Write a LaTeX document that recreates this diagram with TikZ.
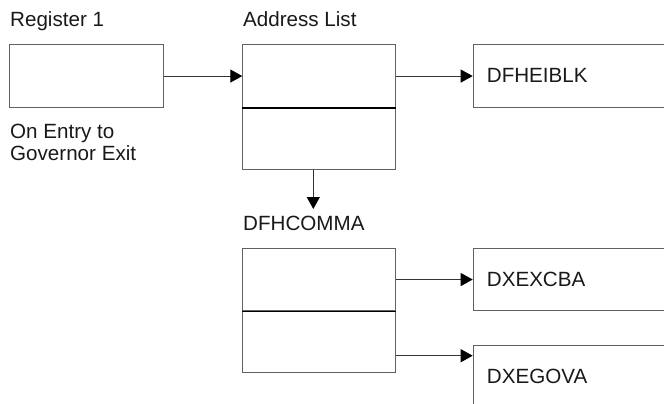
\documentclass[tikz,border=0pt]{standalone}
\usepackage{fontspec}
\setmainfont{Liberation Sans}
\usetikzlibrary{arrows.meta}
\begin{document}
\begin{tikzpicture}[x=1pt,y=-1pt,
  cell/.style={draw=black!62,line width=1.1pt,rectangle,inner sep=0pt,anchor=north west},
  lbl/.style={inner sep=0pt,anchor=base west,font=\fontsize{20.6}{21.4}\selectfont,text=black!90},
  arr/.style={draw=black!80,line width=1pt,-{Triangle[length=12pt,width=13pt,color=black]}}]
\useasboundingbox (0,0) rectangle (664,404);
\clip (0,0) rectangle (664,404);
% Register 1
\node[lbl] (treg) at (10,26.7) {Register 1};
\node[cell,minimum width=153.4pt,minimum height=62.4pt] (reg) at (9.3,44.3) {};
\node[lbl,align=left,anchor=north west] (tentry) at (10,124.2) {On Entry to\\Governor Exit};
% Address List
\node[lbl] (taddr) at (243,26.7) {Address List};
\node[cell,minimum width=153pt,minimum height=62.4pt] (addrA) at (242.3,44.3) {};
\node[cell,minimum width=153pt,minimum height=62.3pt] (addrB) at (242.3,106.7) {};
\draw[black,line width=2pt] (addrA.south west) -- (addrA.south east);
% DFHEIBLK
\node[cell,minimum width=230pt,minimum height=62.4pt] (eib) at (472.7,44.3) {};
\node[lbl] (teib) at (486.7,82.7) {DFHEIBLK};
% DFHCOMMA
\node[lbl] (tcomma) at (243,230.5) {DFHCOMMA};
\node[cell,minimum width=153pt,minimum height=62pt] (cmA) at (242.3,248) {};
\node[cell,minimum width=153pt,minimum height=62.3pt] (cmB) at (242.3,310) {};
\draw[black,line width=1.2pt] (cmA.south west) -- (cmA.south east);
% DXEXCBA
\node[cell,minimum width=230pt,minimum height=62pt] (xcba) at (472.7,248) {};
\node[lbl] (txcba) at (486.7,286.7) {DXEXCBA};
% DXEGOVA
\node[cell,minimum width=230pt,minimum height=100pt] (gova) at (472.7,345.3) {};
\node[lbl] (tgova) at (486.7,383.3) {DXEGOVA};
% connectors
\coordinate (downtip) at (313.3,209);
\draw[arr] (reg.east) -- (addrA.west);
\draw[arr] (addrA.east) -- (eib.west);
\draw[arr] (addrB.south -| downtip) -- (downtip);
\draw[arr] (cmA.east) -- (xcba.west);
\draw[arr] (cmB.east |- 0,355.7) -- (gova.west |- 0,355.7);
\end{tikzpicture}
\end{document}
